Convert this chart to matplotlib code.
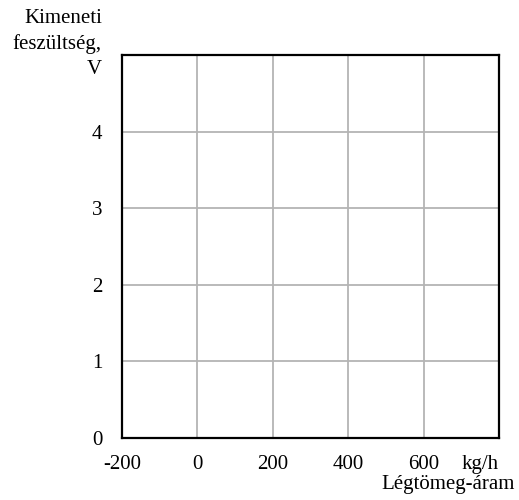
import matplotlib
matplotlib.use("Agg")
import matplotlib.pyplot as plt

# axis ticks and labels
x_ticks = [-200, 0, 200, 400, 600, 800]
x_tick_labels = ["-200", "0", "200", "400", "600", "kg/h"]
y_ticks = [0, 1, 2, 3, 4, 5]
y_tick_labels = ["0", "1", "2", "3", "4", ""]
x_title = "Légtömeg-áram"
y_title = "Kimeneti\nfeszültség,\nV"

plt.rcParams["font.family"] = ["Liberation Serif", "DejaVu Serif"]
plt.rcParams["font.size"] = 15

W, H = 519, 500
fig = plt.figure(figsize=(W / 100, H / 100), dpi=100)
ax = fig.add_axes([122 / W, 1 - 438 / H, (499 - 122) / W, (438 - 55) / H])

ax.set_xlim(x_ticks[0], x_ticks[-1])
ax.set_ylim(y_ticks[0], y_ticks[-1])
ax.set_xticks(x_ticks)
ax.set_xticklabels(x_tick_labels)
ax.set_yticks(y_ticks)
ax.set_yticklabels(y_tick_labels)
ax.tick_params(axis="x", length=0, pad=22)
ax.tick_params(axis="y", length=0, pad=14)
ax.grid(True, color="#b4b4b4", linewidth=1.3)
for s in ax.spines.values():
    s.set_linewidth(1.6)
    s.set_color("black")

for lbl in ax.get_xticklabels():
    lbl.set_verticalalignment("baseline")
# the last x label (kg/h) sits left of its gridline
ax.get_xticklabels()[-1].set_horizontalalignment("right")

fig.text(515 / W, 1 - 485 / H, x_title, ha="right", va="center")
fig.text(102 / W, 1 - 9 / H, y_title, ha="right", va="top", linespacing=1.43)

fig.savefig("out.png", dpi=100)
